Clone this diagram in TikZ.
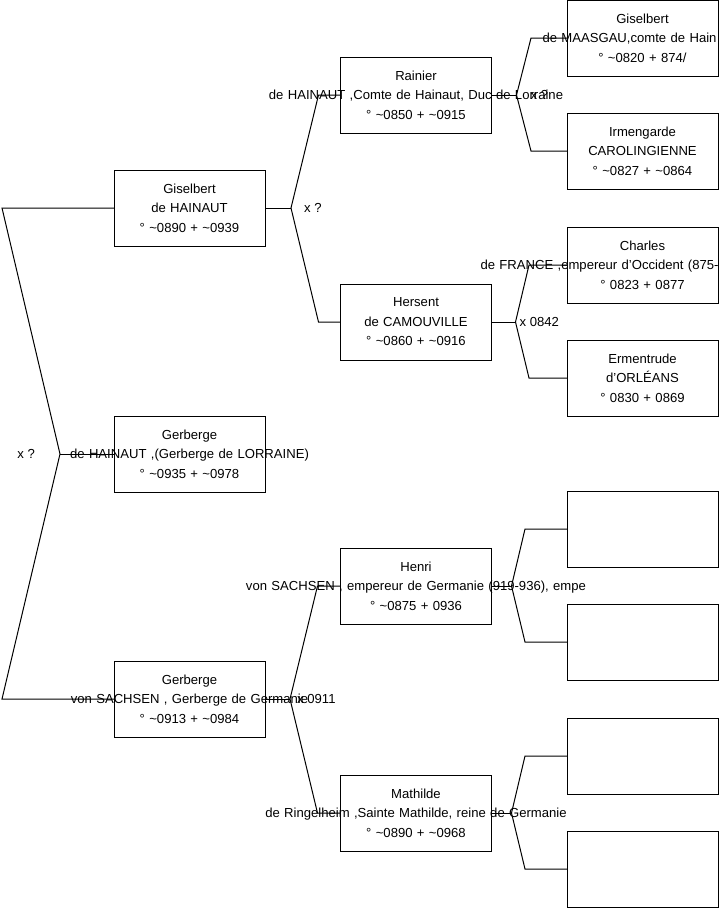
\documentclass[tikz,border=0pt]{standalone}
\usepackage{fontspec}
\setmainfont{Liberation Sans}
\usetikzlibrary{positioning,calc}

\newcommand{\abt}{\textasciitilde}
\newcommand{\longline}[1]{\makebox[0pt]{#1}}
\newcommand{\cutline}[2]{\makebox[0pt]{\makebox[#1][l]{#2}}}

\begin{document}
\begin{tikzpicture}[
    x=1pt, y=1pt,
    person/.style={rectangle, draw, line width=1pt, minimum width=151pt, minimum height=76pt,
        text width=151pt, inner sep=0pt, outer sep=0pt, align=center, font=\fontsize{13.1}{19.5}\selectfont},
    link/.style={line width=1pt},
    union/.style={inner sep=0pt, font=\fontsize{13.1}{15}\selectfont}
]
    % Page
    \fill[white] (0,0) rectangle (719,-908);
    \useasboundingbox (0,0) rectangle (719,-908);

    % Generation 1
    \node[person] (giselbertH) at (189.5,-208) {Giselbert\\de HAINAUT\\° \abt0890 + \abt0939};
    \node[person, below=170pt of giselbertH] (gerbergeH) {Gerberge\\\longline{de HAINAUT ,(Gerberge de LORRAINE)}\\° \abt0935 + \abt0978};
    \node[person, below=169pt of gerbergeH] (gerbergeS) {Gerberge\\\longline{von SACHSEN , Gerberge de Germanie}\\° \abt0913 + \abt0984};

    % Generation 2
    \node[person, right=75.5pt of giselbertH, yshift=113pt] (rainier) {Rainier\\\longline{de HAINAUT ,Comte de Hainaut, Duc de Lorraine}\\° \abt0850 + \abt0915};
    \node[person, right=75.5pt of giselbertH, yshift=-114pt] (hersent) {Hersent\\de CAMOUVILLE\\° \abt0860 + \abt0916};
    \node[person, right=75.5pt of gerbergeS, yshift=113pt] (henri) {Henri\\\longline{von SACHSEN , empereur de Germanie (919-936), empe}\\° \abt0875 + 0936};
    \node[person, right=75.5pt of gerbergeS, yshift=-114pt] (mathilde) {Mathilde\\\longline{de Ringelheim ,Sainte Mathilde, reine de Germanie}\\° \abt0890 + \abt0968};

    % Generation 3
    \node[person, right=75.5pt of rainier, yshift=57pt] (giselbertM) {Giselbert\\\cutline{200pt}{de MAASGAU,comte de Hain}\\° \abt0820 + 874/};
    \node[person, right=75.5pt of rainier, yshift=-56pt] (irmengarde) {Irmengarde\\CAROLINGIENNE\\° \abt0827 + \abt0864};
    \node[person, right=75.5pt of hersent, yshift=57pt] (charles) {Charles\\\cutline{324pt}{de FRANCE ,empereur d'Occident (875-}\\° 0823 + 0877};
    \node[person, right=75.5pt of hersent, yshift=-56pt] (ermentrude) {Ermentrude\\d'ORLÉANS\\° 0830 + 0869};
    \node[person, right=75.5pt of henri, yshift=57pt] (blankA) {};
    \node[person, right=75.5pt of henri, yshift=-56pt] (blankB) {};
    \node[person, right=75.5pt of mathilde, yshift=57pt] (blankC) {};
    \node[person, right=75.5pt of mathilde, yshift=-56pt] (blankD) {};

    % Links: Gerberge de HAINAUT
    \coordinate (vRoot) at ($(gerbergeH.west)+(-54,0)$);
    \draw[link] (giselbertH.west) -- ++(-112,0) -- (vRoot) -- ($(gerbergeS.west)+(-112,0)$) -- (gerbergeS.west);
    \draw[link] (vRoot) -- (gerbergeH.west);
    \node[union, left=25pt of vRoot] (uRoot) {x ?};

    % Links: Giselbert de HAINAUT
    \coordinate (vGiselbertH) at ($(giselbertH.east)+(26,0)$);
    \draw[link] (rainier.west) -- ++(-22,0) -- (vGiselbertH) -- ($(hersent.west)+(-22,0)$) -- (hersent.west);
    \draw[link] (giselbertH.east) -- (vGiselbertH);
    \node[union, right=13pt of vGiselbertH] (uGiselbertH) {x ?};

    % Links: Gerberge von SACHSEN
    \coordinate (vGerbergeS) at ($(gerbergeS.east)+(25,0)$);
    \draw[link] (henri.west) -- ++(-23,0) -- (vGerbergeS) -- ($(mathilde.west)+(-23,0)$) -- (mathilde.west);
    \draw[link] (gerbergeS.east) -- (vGerbergeS);
    \node[union, right=7pt of vGerbergeS] (uGerbergeS) {x 0911};

    % Links: Rainier
    \coordinate (vRainier) at ($(rainier.east)+(25,0)$);
    \draw[link] (giselbertM.west) -- ++(-36,0) -- (vRainier) -- ($(irmengarde.west)+(-36,0)$) -- (irmengarde.west);
    \draw[link] (rainier.east) -- (vRainier);
    \node[union, right=14pt of vRainier] (uRainier) {x ?};

    % Links: Hersent
    \coordinate (vHersent) at ($(hersent.east)+(24,0)$);
    \draw[link] (charles.west) -- ++(-38,0) -- (vHersent) -- ($(ermentrude.west)+(-38,0)$) -- (ermentrude.west);
    \draw[link] (hersent.east) -- (vHersent);
    \node[union, right=4pt of vHersent] (uHersent) {x 0842};

    % Links: Henri
    \coordinate (vHenri) at ($(henri.east)+(20,0)$);
    \draw[link] (blankA.west) -- ++(-42,0) -- (vHenri) -- ($(blankB.west)+(-42,0)$) -- (blankB.west);
    \draw[link] (henri.east) -- (vHenri);

    % Links: Mathilde
    \coordinate (vMathilde) at ($(mathilde.east)+(20,0)$);
    \draw[link] (blankC.west) -- ++(-42,0) -- (vMathilde) -- ($(blankD.west)+(-42,0)$) -- (blankD.west);
    \draw[link] (mathilde.east) -- (vMathilde);
\end{tikzpicture}
\end{document}
